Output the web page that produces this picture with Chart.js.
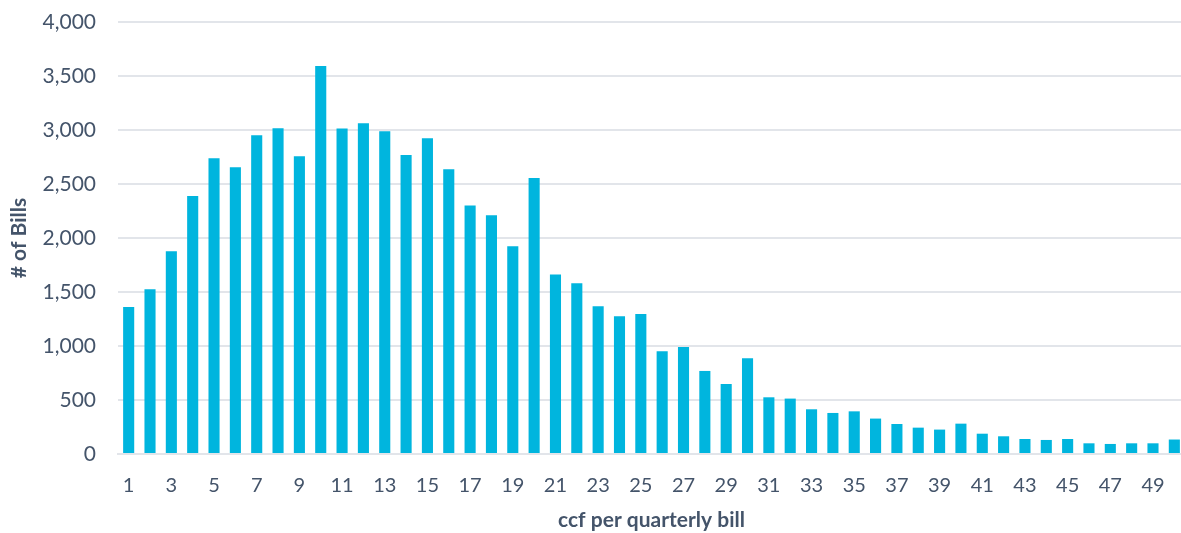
<!DOCTYPE html>
<html>
<head>
<meta charset="utf-8">
<script src="https://cdn.jsdelivr.net/npm/chart.js@4.4.1/dist/chart.umd.min.js"></script>
<style>
  html, body { margin: 0; padding: 0; background: #ffffff; overflow: hidden; }
  #wrap { position: relative; width: 1185px; height: 533px; }
</style>
</head>
<body>
<div id="wrap"><canvas id="c"></canvas></div>
<script>
const categories = [1,2,3,4,5,6,7,8,9,10,11,12,13,14,15,16,17,18,19,20,21,22,23,24,25,26,27,28,29,30,31,32,33,34,35,36,37,38,39,40,41,42,43,44,45,46,47,48,49,50];
const bills = [1360,1525,1877,2390,2738,2655,2951,3016,2757,3593,3013,3062,2988,2769,2923,2636,2300,2210,1923,2556,1661,1580,1367,1275,1296,951,991,769,648,886,525,513,414,380,395,328,278,244,226,281,188,164,139,130,139,99,93,99,99,134];
const yTicks = [0,500,1000,1500,2000,2500,3000,3500,4000];
const xTitle = 'ccf per quarterly bill';
const yTitle = '# of Bills';

const textColor = '#44546A';
const gridColor = '#E2E5EA';

new Chart(document.getElementById('c'), {
  type: 'bar',
  data: {
    labels: categories.map(String),
    datasets: [{
      data: bills,
      backgroundColor: '#00B5DE',
      borderWidth: 0,
      barPercentage: 0.52,
      categoryPercentage: 1.0
    }]
  },
  options: {
    responsive: true,
    maintainAspectRatio: false,
    animation: false,
    layout: { padding: { top: 22, right: 0, bottom: 0, left: 0 } },
    plugins: { legend: { display: false }, tooltip: { enabled: false } },
    scales: {
      x: {
        grid: { display: false, drawTicks: false },
        border: { display: true, color: gridColor, width: 2 },
        ticks: {
          autoSkip: false,
          maxRotation: 0,
          padding: 20,
          color: textColor,
          font: { family: 'Lato', size: 20 },
          callback: function(v, i) { return (i % 2 === 0) ? categories[i] : ''; }
        },
        title: {
          display: true, text: xTitle, color: textColor,
          font: { family: 'Lato', size: 21, weight: 'bold' },
          padding: { top: 14, bottom: 0 }
        },
        afterFit: function(s) { s.height = 79; s.paddingLeft = 0; s.paddingRight = 0; }
      },
      y: {
        min: 0, max: 4000,
        afterBuildTicks: function(s) { s.ticks = yTicks.map(v => ({ value: v })); },
        grid: { color: gridColor, lineWidth: 2, drawTicks: false },
        border: { display: false },
        ticks: {
          padding: 22,
          color: textColor,
          font: { family: 'Lato', size: 21 },
          callback: function(v) { return v.toLocaleString('en-US'); }
        },
        title: {
          display: true, text: yTitle, color: textColor,
          font: { family: 'Lato', size: 21, weight: 'bold' },
          padding: { top: 7, bottom: 0 }
        },
        afterFit: function(s) { s.width = 118; s.paddingTop = 0; s.paddingBottom = 0; }
      }
    }
  }
});
</script>
</body>
</html>
